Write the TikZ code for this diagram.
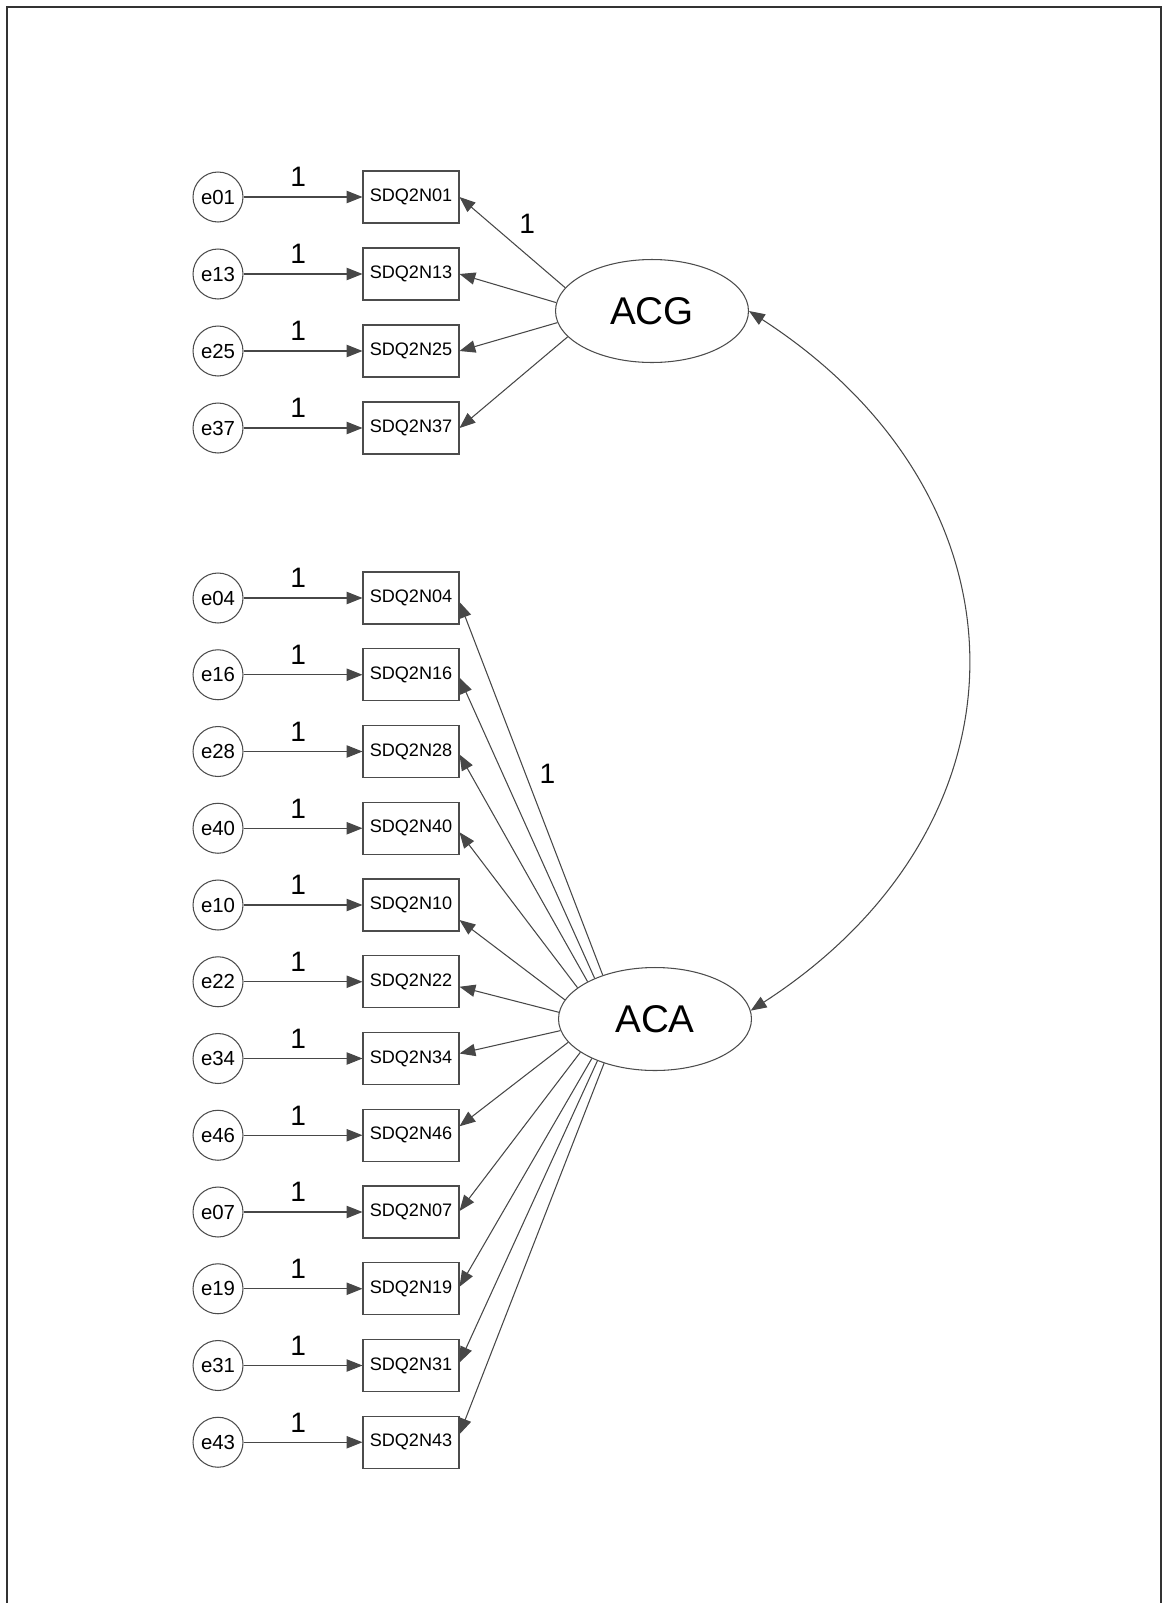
\documentclass[tikz,border=0pt]{standalone}
\usepackage{fontspec}
\setmainfont{Liberation Sans}
\usetikzlibrary{shapes.geometric,arrows.meta,calc}
\begin{document}
\begin{tikzpicture}[x=0.02cm,y=-0.02cm,
  ln/.style={draw=black!72, line width=0.6pt},
  tip/.tip={Triangle[length=9pt,width=7pt]},
  arr/.style={ln, -{tip}},
  obs/.style={draw=black!70, line width=0.6pt, rectangle, minimum width=1.92cm, minimum height=1.04cm, inner sep=0pt, font=\fontsize{10.3}{12}\selectfont},
  err/.style={draw=black!70, line width=0.6pt, circle, minimum size=1cm, inner sep=0pt, font=\fontsize{11.6}{13}\selectfont},
  lat/.style={draw=black!70, line width=0.6pt, ellipse, minimum width=3.86cm, minimum height=2.06cm, inner sep=0pt, font=\fontsize{22}{26}\selectfont},
  one/.style={font=\fontsize{16}{18}\selectfont, inner sep=0pt}]
\useasboundingbox (0,0) rectangle (1164,1603);
\draw[line width=1.2pt, black!80] (7,1603) -- (7,7) -- (1161,7) -- (1161,1603);

\node[lat] (ACG) at (652,311) {ACG};
\node[lat] (ACA) at (655,1019) {ACA};

\foreach \id/\y in {01/197,13/274,25/351,37/428,
  04/598,16/674.75,28/751.5,40/828.25,10/905,22/981.75,34/1058.5,46/1135.25,07/1212,19/1288.75,31/1365.5,43/1442.25}{
  \node[err] (e\id) at (218,\y) {e\id};
  \node[obs] (s\id) at (411,\y) {SDQ2N\id};
  \draw[arr] (e\id) -- (s\id) node[one,pos=0.46,yshift=11.3pt] (l\id) {1};
}

\draw[arr] (ACG.165) -- (s01.east) node[one,pos=0.36,yshift=18pt] (lg) {1};
\foreach \id/\a in {13/175,25/187,37/197}
  \draw[arr] (ACG.\a) -- (s\id.east);

\draw[arr] (ACA.140) -- ($(s04.east)+(0,4)$) node[one,pos=0.54,xshift=12.5pt] (la) {1};
\foreach \id/\a/\o in {16/146/3,28/151/3,40/158/4,10/168/15,22/176/5,34/187/-5,46/195/-9,07/204/-1,19/212/-2,31/216/-3,43/221/-8}
  \draw[arr] (ACA.\a) -- ($(s\id.east)+(0,\o)$);

\draw[ln, {tip}-{tip}] (ACG.east) .. controls +(289,187) and +(289,-187) .. (ACA.5);
\end{tikzpicture}
\end{document}
